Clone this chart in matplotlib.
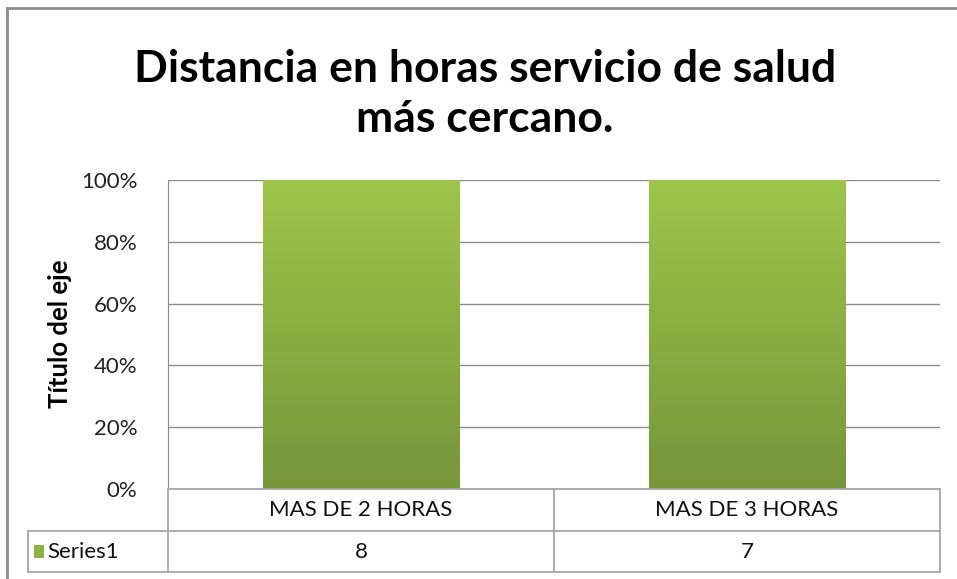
import matplotlib
matplotlib.use("Agg")
import matplotlib.pyplot as plt
import numpy as np
from matplotlib.colors import LinearSegmentedColormap
from matplotlib.lines import Line2D
from matplotlib.patches import Rectangle

# datos
categorias = ["MAS DE 2 HORAS", "MAS DE 3 HORAS"]
series1 = [8, 7]
nombre_serie = "Series1"
titulo = "Distancia en horas servicio de salud\nmás cercano."
titulo_eje = "Título del eje"

plt.rcParams["font.family"] = ["Lato", "DejaVu Sans"]

W, H = 957, 579
fig = plt.figure(figsize=(W / 100, H / 100), dpi=100)

def fx(px):
    return px / W

def fy(py):
    return 1 - py / H

# marco del grafico (solo arriba e izquierda visibles)
borde = "#8c8c8c"
fig.add_artist(Line2D([fx(7), fx(7)], [fy(8), fy(579)], color=borde, lw=2))
fig.add_artist(Line2D([fx(7), fx(957)], [fy(8), fy(8)], color=borde, lw=2))

ax = fig.add_axes([fx(168), fy(489), fx(940) - fx(168), fy(180) - fy(489)])

# 100% apilado: cada columna es su propio total
total = np.array(series1, dtype=float)
pct = np.array(series1) / total * 100
x = np.arange(len(categorias))

bars = ax.bar(x, pct, width=0.51, color="#8DB043", edgecolor="none", zorder=3)

cmap = LinearSegmentedColormap.from_list("verde", ["#76963A", "#9EC54B"])
grad = np.linspace(0, 1, 256).reshape(-1, 1)
for b in bars:
    x0, y0 = b.get_x(), b.get_y()
    im = ax.imshow(grad, cmap=cmap, origin="lower", aspect="auto",
                   extent=[x0, x0 + b.get_width(), y0, y0 + b.get_height()], zorder=4)
    im.set_clip_path(b)

ax.set_xlim(-0.5, len(categorias) - 0.5)
ax.set_ylim(0, 100)
ax.set_yticks(np.arange(0, 101, 20))
ax.set_yticklabels([f"{v}%" for v in range(0, 101, 20)])
ax.tick_params(axis="y", length=0, pad=22, labelsize=16, labelcolor="#222222")
ax.set_xticks([])
ax.grid(axis="y", color="#8a8a8a", lw=1, zorder=0)
for s in ["top", "right", "bottom"]:
    ax.spines[s].set_visible(False)
ax.spines["left"].set_color("#8a8a8a")

fig.text(fx(60), fy(334), titulo_eje, rotation=90, ha="center", va="center",
         fontsize=18.5, fontweight="bold")

fig.text(fx(485), fy(94), titulo, ha="center", va="center", fontsize=32,
         fontweight="bold", linespacing=1.3)

# tabla de datos
linea = "#a6a6a6"
row_top, row_mid, row_bot = 489, 531, 572
fig.add_artist(Line2D([fx(168), fx(940)], [fy(row_top), fy(row_top)], color=linea, lw=1.3))
for yy in (row_mid, row_bot):
    fig.add_artist(Line2D([fx(28), fx(940)], [fy(yy), fy(yy)], color=linea, lw=1.3))
for xx in (168, 554, 940):
    fig.add_artist(Line2D([fx(xx), fx(xx)], [fy(row_top), fy(row_bot)], color=linea, lw=1.3))
fig.add_artist(Line2D([fx(28), fx(28)], [fy(row_mid), fy(row_bot)], color=linea, lw=1.3))

for i, (cat, val) in enumerate(zip(categorias, series1)):
    xc = fx(168 + (i + 0.5) * (940 - 168) / len(categorias))
    fig.text(xc, fy((row_top + row_mid) / 2), cat, ha="center", va="center",
             fontsize=16, color="#111111")
    fig.text(xc, fy((row_mid + row_bot) / 2), str(val), ha="center", va="center",
             fontsize=16, color="#111111")

fig.add_artist(Rectangle((fx(34), fy(558)), fx(10), fy(545) - fy(558),
                         facecolor="#8DB043", edgecolor="none"))
fig.text(fx(47), fy((row_mid + row_bot) / 2), nombre_serie, ha="left", va="center",
         fontsize=16, color="#111111")

fig.savefig("out.png", dpi=100)
